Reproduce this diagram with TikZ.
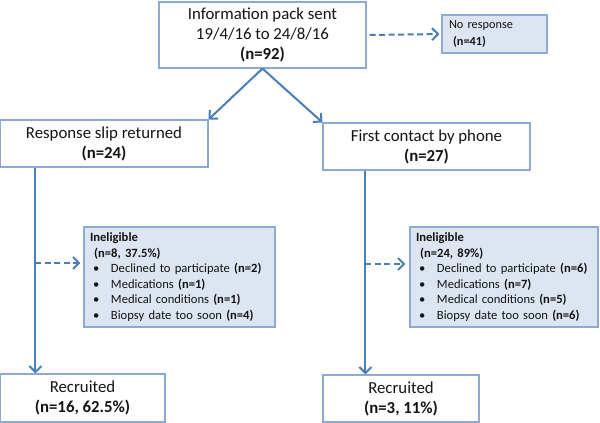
\documentclass[tikz,border=0pt]{standalone}
\usepackage{fontspec}
\setmainfont{Carlito}
\usetikzlibrary{arrows.meta}
\definecolor{arrowblue}{RGB}{74,126,187}
\definecolor{boxline}{RGB}{140,170,212}
\definecolor{fillblue}{RGB}{220,230,242}
\definecolor{txt}{RGB}{20,20,20}
\tikzset{
  mainbox/.style={draw=boxline, line width=1.1pt, fill=white, text=txt, align=center, inner sep=0pt,
    font=\fontsize{16.8}{20}\selectfont},
  sidebox/.style={draw=boxline, line width=1.1pt, fill=fillblue, text=txt, align=left, inner sep=0pt,
    font=\fontsize{12.6}{15.6}\selectfont},
  arr/.style={draw=arrowblue, line width=2pt, -{Straight Barb[length=6pt,width=12pt,line width=2pt]}},
  darr/.style={draw=arrowblue, line width=2pt, dash pattern=on 6pt off 3.5pt, -{Straight Barb[length=6pt,width=12pt,line width=2pt]}}
}
\newcommand{\itm}{\makebox[21pt][l]{\hspace{3pt}\textbullet}}
\begin{document}
\begin{tikzpicture}[x=1pt,y=-1pt]
\useasboundingbox (0,0) rectangle (600,423);
% main boxes
\node[mainbox, minimum width=207pt, minimum height=66pt] (top) at (262.5,35)
  {Information pack sent\\19/4/16 to 24/8/16\\\textbf{(n=92)}};
\node[mainbox, minimum width=208pt, minimum height=47pt] (rs) at (104,143.5)
  {Response slip returned\\\textbf{(n=24)}};
\node[mainbox, minimum width=207pt, minimum height=47pt] (fc) at (426.5,146.5)
  {First contact by phone\\\textbf{(n=27)}};
\node[mainbox, minimum width=165pt, minimum height=48pt] (rec1) at (82.5,398)
  {Recruited\\\textbf{(n=16, 62.5\%)}};
\node[mainbox, minimum width=156pt, minimum height=47pt] (rec2) at (401,398.5)
  {Recruited\\\textbf{(n=3, 11\%)}};
% side boxes
\node[sidebox, minimum width=105pt, minimum height=38pt, text width=91pt, font=\fontsize{12.3}{17}\selectfont] (nr) at (494.5,34)
  {No response\\\ \textbf{(n=41)}};
\node[sidebox, minimum width=191pt, minimum height=100pt, text width=179pt] (ineL) at (179.5,277)
  {\textbf{Ineligible}\\\ \textbf{(n=8, 37.5\%)}\\
   \itm Declined to participate \textbf{(n=2)}\\
   \itm Medications \textbf{(n=1)}\\
   \itm Medical conditions \textbf{(n=1)}\\
   \itm Biopsy date too soon \textbf{(n=4)}};
\node[sidebox, minimum width=188pt, minimum height=100pt, text width=176pt] (ineR) at (504,277)
  {\textbf{Ineligible}\\\ \textbf{(n=24, 89\%)}\\
   \itm Declined to participate \textbf{(n=6)}\\
   \itm Medications \textbf{(n=7)}\\
   \itm Medical conditions \textbf{(n=5)}\\
   \itm Biopsy date too soon \textbf{(n=6)}};
% connectors
\draw[arr] (top.south) -- (rs.north east);
\draw[arr] (top.south) -- (fc.north west);
\draw[darr, shorten <=3pt, shorten >=2pt] (top.east) -- (nr.west);
\draw[arr] ([xshift=36pt]rs.south west) -- ([xshift=36pt]rec1.north west);
\draw[arr] ([xshift=43pt]fc.south west) -- ([xshift=43pt]rec2.north west);
\draw[darr, shorten >=3pt] ([xshift=36pt,yshift=14pt]rs.south west |- ineL.west) -- ([yshift=14pt]ineL.west);
\draw[darr, shorten >=4pt] ([xshift=43pt,yshift=13pt]fc.south west |- ineR.west) -- ([yshift=13pt]ineR.west);
\end{tikzpicture}
\end{document}
